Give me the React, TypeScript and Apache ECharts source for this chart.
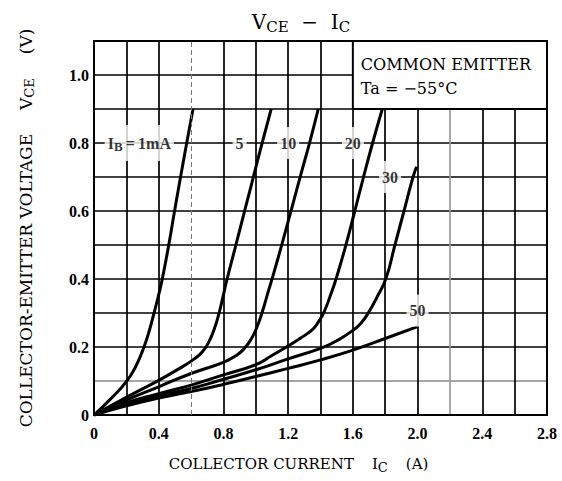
import React, { useEffect, useRef } from 'react';
import * as echarts from 'echarts';

const xTicks = [0, 0.4, 0.8, 1.2, 1.6, 2.0, 2.4, 2.8];
const xTickLabels = ['0', '0.4', '0.8', '1.2', '1.6', '2.0', '2.4', '2.8'];
const yTicks = [0, 0.2, 0.4, 0.6, 0.8, 1.0];
const yTickLabels = ['0', '0.2', '0.4', '0.6', '0.8', '1.0'];

const ib1 = [[0, 0], [0.1, 0.046], [0.2, 0.098], [0.26, 0.145], [0.309, 0.2], [0.343, 0.25], [0.371, 0.3], [0.398, 0.35], [0.422, 0.4], [0.462, 0.5], [0.498, 0.6], [0.535, 0.7], [0.573, 0.8], [0.612, 0.9]];
const ib5 = [[0, 0], [0.2, 0.052], [0.4, 0.102], [0.55, 0.143], [0.62, 0.165], [0.67, 0.186], [0.71, 0.215], [0.745, 0.255], [0.772, 0.298], [0.796, 0.345], [0.82, 0.395], [0.87, 0.487], [0.92, 0.58], [0.97, 0.672], [1.02, 0.765], [1.07, 0.855], [1.095, 0.9]];
const ib10 = [[0, 0], [0.2, 0.044], [0.4, 0.083], [0.6, 0.122], [0.8, 0.155], [0.88, 0.175], [0.93, 0.196], [0.97, 0.222], [1.005, 0.256], [1.04, 0.303], [1.075, 0.36], [1.108, 0.412], [1.166, 0.51], [1.222, 0.608], [1.277, 0.705], [1.335, 0.805], [1.386, 0.9]];
const ib20 = [[0, 0], [0.2, 0.036], [0.4, 0.063], [0.6, 0.088], [0.8, 0.118], [1.0, 0.148], [1.1, 0.175], [1.2, 0.203], [1.27, 0.224], [1.32, 0.24], [1.36, 0.256], [1.39, 0.276], [1.421, 0.302], [1.46, 0.35], [1.496, 0.4], [1.557, 0.5], [1.612, 0.6], [1.666, 0.7], [1.722, 0.8], [1.782, 0.9]];
const ib30 = [[0, 0], [0.2, 0.032], [0.4, 0.056], [0.6, 0.078], [0.8, 0.105], [1.0, 0.133], [1.2, 0.165], [1.4, 0.196], [1.5, 0.218], [1.6, 0.249], [1.65, 0.27], [1.695, 0.3], [1.75, 0.347], [1.805, 0.402], [1.86, 0.5], [1.916, 0.6], [1.972, 0.7], [1.994, 0.73]];
const ib50 = [[0, 0], [0.2, 0.027], [0.4, 0.05], [0.6, 0.069], [0.8, 0.09], [1.0, 0.113], [1.2, 0.137], [1.4, 0.162], [1.6, 0.191], [1.8, 0.225], [2.0, 0.26]];

const curveNames = ['IB=1mA', 'IB=5mA', 'IB=10mA', 'IB=20mA', 'IB=30mA', 'IB=50mA'];
const curves = [ib1, ib5, ib10, ib20, ib30, ib50];
const curveLabelTexts = ['{i|I}{s|B}{i|\u2009=\u20091mA}', '{i|5}', '{i|10}', '{i|20}', '{i|30}', '{i|50}'];
const curveLabelPos = [[0.28, 0.8], [0.9, 0.8], [1.2, 0.8], [1.6, 0.8], [1.83, 0.7], [2.0, 0.307]];

const noteBox = [[1.6, 1.1], [2.8, 0.9]];
const noteLines = ['COMMON EMITTER', 'Ta = \u221255\u00b0C'];

const WORD = '"DejaVu Serif", serif';
const NUM = '"Liberation Serif", serif';

function pick(v: number, ticks: number[], labels: string[]) {
  const i = ticks.findIndex((t) => Math.abs(t - v) < 1e-6);
  return i >= 0 ? labels[i] : '';
}

export default function App() {
  const ref = useRef<HTMLDivElement>(null);
  useEffect(() => {
    if (!ref.current) return;
    const chart = echarts.init(ref.current, null, { renderer: 'svg' });
    const xSplitColors = ['#000', '#000', '#000', 'rgba(0,0,0,0)', '#000', '#000', '#000', '#000', '#000', '#000', '#000', '#999', '#000', '#000', '#000'];
    const ySplitColors = ['#000', '#888', '#000', '#000', '#000', '#000', '#000', '#000', '#000', '#000', '#000', '#000'];
    const lineSeries = curves.map((d, i) => ({
      name: curveNames[i],
      type: 'line',
      data: d,
      showSymbol: false,
      smooth: 0.5,
      lineStyle: { color: '#000', width: 3 },
      z: 3,
    }));
    const option: any = {
      animation: false,
      backgroundColor: '#fff',
      title: {
        text: '{m|V}{s|CE}{m|  \u2212  I}{s|C}',
        left: 296,
        top: 5,
        textAlign: 'center',
        textStyle: {
          fontWeight: 'normal',
          rich: {
            m: { fontFamily: WORD, fontWeight: 'normal', fontSize: 20, color: '#000' },
            s: { fontFamily: WORD, fontWeight: 'normal', fontSize: 15, color: '#000', padding: [9, 0, 0, 0] },
          },
        },
      },
      grid: {
        left: 94,
        right: 15,
        top: 41,
        bottom: 66,
        show: true,
        borderColor: '#000',
        borderWidth: 2,
        backgroundColor: 'transparent',
      },
      xAxis: {
        type: 'value',
        min: 0,
        max: 2.8,
        interval: 0.2,
        name: '{t|COLLECTOR CURRENT}{g|}{t|I}{s|C}{g|}{t|(A)}',
        nameLocation: 'middle',
        nameGap: 38,
        nameTextStyle: {
          padding: [0, 44, 0, 0],
          rich: {
            t: { fontFamily: WORD, fontSize: 15, color: '#000' },
            s: { fontFamily: WORD, fontSize: 13, color: '#000', padding: [8, 0, 0, 0] },
            g: { width: 18 },
          },
        },
        axisLine: { show: true, lineStyle: { color: '#000', width: 2 } },
        axisTick: { show: false },
        axisLabel: {
          margin: 10,
          fontFamily: NUM,
          fontWeight: 'bold',
          fontSize: 16,
          color: '#000',
          formatter: (v: number) => pick(v, xTicks, xTickLabels),
        },
        splitLine: { show: true, lineStyle: { color: xSplitColors, width: 1.7 } },
      },
      yAxis: {
        type: 'value',
        min: 0,
        max: 1.1,
        interval: 0.1,
        name: '{t|COLLECTOR-EMITTER VOLTAGE}{g|}{t|V}{s|CE}{g|}{t|(V)}',
        nameLocation: 'middle',
        nameRotate: 90,
        nameGap: 58,
        nameTextStyle: {
          rich: {
            t: { fontFamily: WORD, fontSize: 17, color: '#000' },
            s: { fontFamily: WORD, fontSize: 13, color: '#000', padding: [8, 0, 0, 0] },
            g: { width: 24 },
          },
        },
        axisLine: { show: true, lineStyle: { color: '#000', width: 2 } },
        axisTick: { show: false },
        axisLabel: {
          margin: 5,
          fontFamily: NUM,
          fontWeight: 'bold',
          fontSize: 16,
          color: '#000',
          formatter: (v: number) => pick(v, yTicks, yTickLabels),
        },
        splitLine: { show: true, lineStyle: { color: ySplitColors, width: 1.7 } },
      },
      series: [
        {
          type: 'line',
          data: [],
          silent: true,
          z: 2,
          markLine: {
            silent: true,
            symbol: 'none',
            label: { show: false },
            lineStyle: { color: '#777', width: 1, type: [5, 3] },
            data: [{ xAxis: 0.6 }],
          },
          markArea: {
            silent: true,
            itemStyle: { color: '#fff', borderColor: '#000', borderWidth: 2 },
            label: {
              show: true,
              position: 'insideTopLeft',
              distance: 0,
              padding: [12, 0, 0, 9],
              formatter: noteLines.map((l) => '{t|' + l + '}').join('\n'),
              rich: {
                t: { fontFamily: WORD, fontSize: 16, lineHeight: 24, color: '#000' },
              },
            },
            data: [[{ coord: noteBox[0] }, { coord: noteBox[1] }]],
          },
        },
        ...lineSeries,
        {
          type: 'scatter',
          symbolSize: 1,
          itemStyle: { color: 'rgba(0,0,0,0)' },
          z: 5,
          data: curveLabelPos.map((p, i) => ({ value: p, label: { formatter: curveLabelTexts[i] } })),
          label: {
            show: true,
            position: 'inside',
            backgroundColor: '#fff',
            padding: [8, 3],
            rich: {
              i: { fontFamily: NUM, fontWeight: 'bold', fontSize: 16, color: '#000' },
              s: { fontFamily: NUM, fontWeight: 'bold', fontSize: 13, color: '#000', padding: [7, 0, 0, 0] },
            },
          },
        },
      ],
    };
    chart.setOption(option);
    return () => chart.dispose();
  }, []);
  return (
    <div
      ref={ref}
      style={{ position: 'fixed', left: 0, top: 0, width: 562, height: 481, background: '#fff' }}
    />
  );
}
